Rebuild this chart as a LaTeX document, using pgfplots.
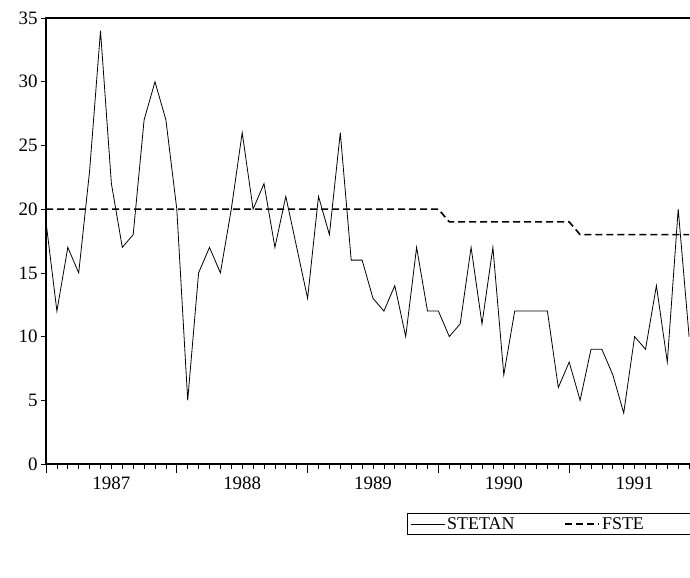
\documentclass[border=0pt]{standalone}
\usepackage{pgfplots}
\pgfplotsset{compat=1.18}
\usepackage{fontspec}
\setmainfont{Liberation Serif}
\pgfplotstableread{
k v f
0 19 20
1 12 20
2 17 20
3 15 20
4 23 20
5 34 20
6 22 20
7 17 20
8 18 20
9 27 20
10 30 20
11 27 20
12 20 20
13 5 20
14 15 20
15 17 20
16 15 20
17 20 20
18 26 20
19 20 20
20 22 20
21 17 20
22 21 20
23 17 20
24 13 20
25 21 20
26 18 20
27 26 20
28 16 20
29 16 20
30 13 20
31 12 20
32 14 20
33 10 20
34 17 20
35 12 20
36 12 20
37 10 19
38 11 19
39 17 19
40 11 19
41 17 19
42 7 19
43 12 19
44 12 19
45 12 19
46 12 19
47 6 19
48 8 19
49 5 18
50 9 18
51 9 18
52 7 18
53 4 18
54 10 18
55 9 18
56 14 18
57 8 18
58 20 18
59 10 18
}\datatable
\begin{document}
\begin{tikzpicture}[x=1bp,y=1bp]
\begin{axis}[
  at={(46bp,-464bp)}, anchor=south west,
  width=654bp, height=446bp, scale only axis,
  xmin=0, xmax=60, ymin=0, ymax=35,
  ytick={0,5,...,35},
  xtick={6,18,30,42,54},
  xticklabels={1987,1988,1989,1990,1991},
  minor xtick={0,...,60},
  extra x ticks={0,12,24,36,48,60},
  extra x tick labels={},
  extra x tick style={major tick length=9bp},
  tick align=outside,
  xtick pos=left, ytick pos=left,
  major tick length=5bp, minor tick length=5bp,
  tick style={black, line width=0.7bp},
  axis line style={line width=2.5bp},
  /pgf/number format/assume math mode=true,
  ticklabel style={font=\fontsize{19}{19}\selectfont},
  xticklabel style={yshift=-4bp},
  legend style={at={(axis description cs:0.552,-0.11)}, anchor=north west,
    draw=black, line width=0.8bp, font=\fontsize{18}{18}\selectfont,
    legend columns=2, inner xsep=3bp, inner ysep=2bp,
    /tikz/every even column/.append style={column sep=48bp}},
  legend image code/.code={\draw[#1] (0bp,0bp) -- (34bp,0bp);},
]
\addplot[black, line width=0.8bp] table[x=k, y=v] {\datatable};
\addlegendentry{STETAN}
\addplot[black, line width=1.6bp, dash pattern=on 7bp off 4bp] table[x=k, y=f] {\datatable};
\addlegendentry{\makebox[110bp][l]{FSTE}}
\end{axis}
\pgfresetboundingbox
\useasboundingbox (0,0) rectangle (690bp,-578bp);
\end{tikzpicture}
\end{document}
